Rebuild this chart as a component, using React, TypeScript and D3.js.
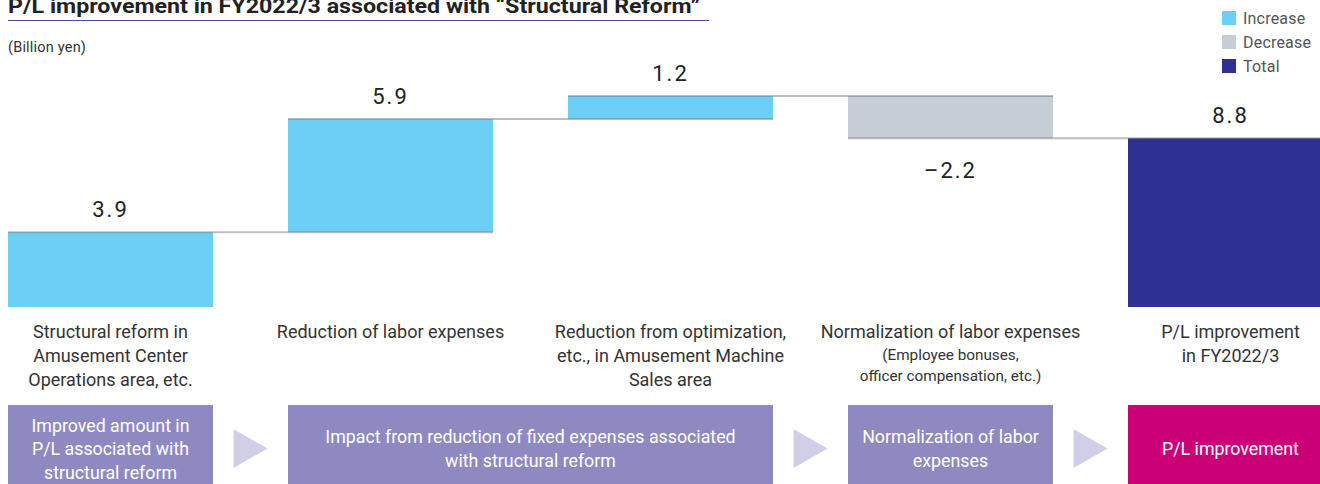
import React from "react";
import * as d3 from "d3";

const categories = ["c1", "c2", "c3", "c4", "c5"];
const values = [3.9, 5.9, 1.2, -2.2, 8.8];
const kinds = ["increase", "increase", "increase", "decrease", "total"];
const valueLabels = ["3.9", "5.9", "1.2", "\u20132.2", "8.8"];
const categoryLabels: string[][] = [
  ["Structural reform in", "Amusement Center", "Operations area, etc."],
  ["Reduction of labor expenses"],
  ["Reduction from optimization,", "etc., in Amusement Machine", "Sales area"],
  ["Normalization of labor expenses"],
  ["P/L improvement", "in FY2022/3"],
];
const subLabels: string[][] = [[], [], [], ["(Employee bonuses,", "officer compensation, etc.)"], []];
const groupStarts = [0, 1, 3, 4];
const groupEnds = [0, 2, 3, 4];
const groupTexts: string[][] = [
  ["Improved amount in", "P/L associated with", "structural reform"],
  ["Impact from reduction of fixed expenses associated", "with structural reform"],
  ["Normalization of labor", "expenses"],
  ["P/L improvement"],
];
const legendLabels = ["Increase", "Decrease", "Total"];

const W = 1320;
const H = 484;
const FONT = "Roboto, 'Liberation Sans', Arial, sans-serif";
const colors: Record<string, string> = {
  increase: "#6dcff6",
  decrease: "#c5cdd6",
  total: "#2e3192",
};
const groupColors = ["#8e89c1", "#8e89c1", "#8e89c1", "#cc0077"];

export default function App() {
  const x = d3.scaleBand<string>().domain(categories).range([8, 1333]).paddingInner(75 / 280).paddingOuter(0);
  const y = d3.scaleLinear().domain([0, 11]).range([307, 96]);
  const bw = x.bandwidth();

  let cum = 0;
  const bars = values.map((v, i) => {
    let y0: number, y1: number;
    if (kinds[i] === "total") {
      y0 = 0;
      y1 = v;
    } else {
      y0 = cum;
      y1 = cum + v;
      cum = y1;
    }
    return { i, v, y0, y1, lo: Math.min(y0, y1), hi: Math.max(y0, y1), end: kinds[i] === "total" ? v : y1 };
  });

  return (
    <div style={{ position: "absolute", left: 0, top: 0, width: W, height: H, overflow: "hidden", background: "#fff" }}>
      <svg width={W} height={H} style={{ display: "block" }} fontFamily={FONT}>
        {/* Title */}
        <text x={8} y={13} fontSize={21} fontWeight={700} fill="#222" textLength={692} lengthAdjust="spacingAndGlyphs">
          P/L improvement in FY2022/3 associated with “Structural Reform”
        </text>
        <line x1={8} x2={709} y1={20.5} y2={20.5} stroke="#4a4a9a" strokeWidth={1.2} />
        <text x={8} y={52} fontSize={14.5} fill="#333" letterSpacing={0.2}>(Billion yen)</text>

        {/* Legend */}
        {legendLabels.map((l, k) => (
          <g key={l}>
            <rect x={1222} y={11 + k * 24} width={14} height={14} fill={colors[["increase", "decrease", "total"][k]]} />
            <text x={1243} y={23.5 + k * 24} fontSize={16} fill="#555" letterSpacing={0.2}>{l}</text>
          </g>
        ))}

        {/* Bars */}
        {bars.map((b) => (
          <rect
            key={b.i}
            x={x(categories[b.i])!}
            y={y(b.hi)}
            width={bw}
            height={y(b.lo) - y(b.hi)}
            fill={colors[kinds[b.i]]}
          />
        ))}

        {/* Connectors */}
        {bars.slice(0, -1).map((b) => {
          const x1 = x(categories[b.i])!;
          const x2 = x(categories[b.i + 1])! + bw;
          const yy = y(b.end);
          return (
            <line key={"c" + b.i} x1={x1} x2={x2} y1={yy} y2={yy} stroke="rgba(110,110,110,0.45)" strokeWidth={2} />
          );
        })}

        {/* Value labels */}
        {bars.map((b) => {
          const cx = x(categories[b.i])! + bw / 2;
          const yy = b.v >= 0 ? y(b.hi) - 15 : y(b.lo) + 40;
          return (
            <text key={"v" + b.i} x={cx} y={yy} fontSize={22} fill="#222" textAnchor="middle" letterSpacing={2}>
              {valueLabels[b.i]}
            </text>
          );
        })}

        {/* Category labels */}
        {categoryLabels.map((lines, i) => {
          const cx = x(categories[i])! + bw / 2;
          return (
            <g key={"l" + i}>
              {lines.map((t, j) => (
                <text key={j} x={cx} y={338 + j * 24} fontSize={18} fill="#333" textAnchor="middle">
                  {t}
                </text>
              ))}
              {subLabels[i].map((t, j) => (
                <text key={"s" + j} x={cx} y={360 + j * 21} fontSize={15.3} fill="#333" textAnchor="middle">
                  {t}
                </text>
              ))}
            </g>
          );
        })}

        {/* Bottom boxes */}
        {groupStarts.map((s, g) => {
          const x0 = x(categories[s])!;
          const x1 = x(categories[groupEnds[g]])! + bw;
          const cx = (x0 + x1) / 2;
          const lines = groupTexts[g];
          const cy = 449;
          const lh = 23.5;
          return (
            <g key={"g" + g}>
              <rect x={x0} y={405} width={x1 - x0} height={H - 405 + 10} fill={groupColors[g]} />
              {lines.map((t, j) => (
                <text
                  key={j}
                  x={cx}
                  y={cy + (j - (lines.length - 1) / 2) * lh + 6}
                  fontSize={17.8}
                  fill="#fff"
                  textAnchor="middle"
                >
                  {t}
                </text>
              ))}
            </g>
          );
        })}

        {/* Arrows */}
        {groupStarts.slice(1).map((s, g) => {
          const prevEnd = x(categories[groupEnds[g]])! + bw;
          const nextStart = x(categories[s])!;
          const mid = (prevEnd + nextStart) / 2;
          const path = d3.path();
          path.moveTo(mid - 17, 429);
          path.lineTo(mid + 17, 448.5);
          path.lineTo(mid - 17, 468);
          path.closePath();
          return <path key={"a" + g} d={path.toString()} fill="#d1cee8" />;
        })}
      </svg>
    </div>
  );
}
